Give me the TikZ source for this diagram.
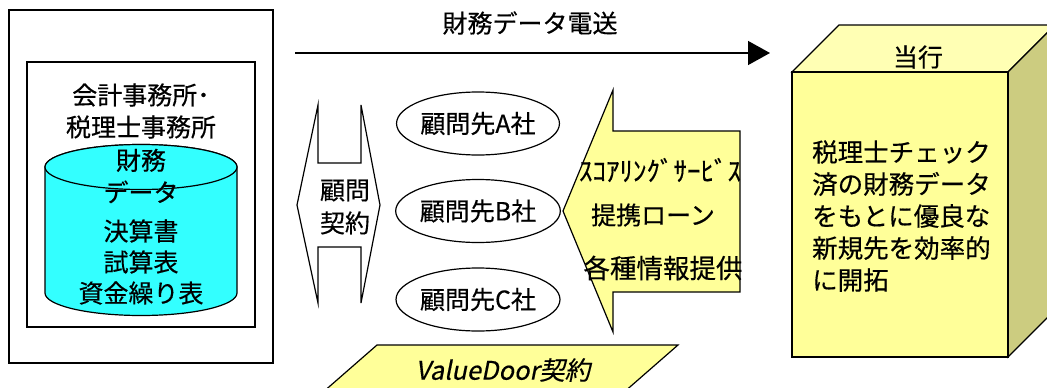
\documentclass[tikz,border=0pt]{standalone}
\usepackage{fontspec}
\setmainfont{Noto Sans CJK JP}[FakeBold=0.4]
\newfontfamily\jpit{Noto Sans CJK JP}[FakeSlant=0.2,FakeBold=0.4]
\usetikzlibrary{arrows.meta,shapes.geometric}
\definecolor{lyellow}{RGB}{255,255,153}
\definecolor{tyellow}{RGB}{255,255,180}
\definecolor{syellow}{RGB}{204,204,128}
\definecolor{dbcyan}{RGB}{51,255,255}
\tikzset{
  box/.style={draw=black,line width=1.4pt},
  txt/.style={font=\fontsize{25}{32}\selectfont,inner sep=0pt,align=center},
  shapeline/.style={draw=black,line width=1.2pt,line join=miter},
  client/.style={ellipse,draw=black,line width=1.2pt,minimum width=140pt,minimum height=63pt,inner sep=0pt,font=\fontsize{25}{30}\selectfont},
}
\begin{document}
\begin{tikzpicture}[x=1pt,y=-1pt]
\useasboundingbox (0,0) rectangle (1047,388);
\clip (0,0) rectangle (1047,388);
\fill[white] (0,0) rectangle (1047,388);
% left office
\node[box,minimum width=264pt,minimum height=353pt,inner sep=0pt] (outer) at (141,186.5) {};
\node[box,minimum width=228pt,minimum height=265pt,inner sep=0pt] (inner) at (141,194.5) {};
\node[txt] (office) at (141,111) {会計事務所･\\税理士事務所};
% cylinder
\path[shapeline,fill=dbcyan] (45,167) -- (45,293) arc[start angle=180,end angle=0,x radius=96,y radius=22.5] -- (237,167) arc[start angle=0,end angle=-180,x radius=96,y radius=22.5] -- cycle;
\path[shapeline,fill=dbcyan] (141,167) ellipse[x radius=96,y radius=22.5];
\node[txt] (dbtitle) at (141,176) {財務\\データ};
\node[txt,font=\fontsize{25}{31}\selectfont] (dbitems) at (141,262) {決算書\\試算表\\資金繰り表};
% top arrow
\coordinate (sendA) at (295,53);
\coordinate (sendB) at (770,53);
\draw[line width=1.4pt,-{Triangle[length=22pt,width=24pt]}] (sendA) -- (sendB);
\node[txt] (sendlbl) at (530,23) {財務データ電送};
% double arrow
\path[shapeline,fill=white] (318,105) -- (318,163) -- (361,163) -- (361,105) -- (380,205) -- (361,303) -- (361,247) -- (318,247) -- (318,303) -- (297,205) -- cycle;
\node[txt,font=\fontsize{25}{33}\selectfont] (contract) at (345,207) {顧問\\契約};
% clients
\node[client] (ca) at (478,123.5) {顧問先A社};
\node[client] (cb) at (478,211) {顧問先B社};
\node[client] (cc) at (478,299.5) {顧問先C社};
% big yellow arrow
\path[shapeline,fill=lyellow] (563,211) -- (613,90) -- (613,131) -- (740,131) -- (740,292) -- (613,292) -- (613,332) -- cycle;
\node[txt,font=\fontsize{27}{30}\selectfont] (scoring) at (660,170) {ｽｺｱﾘﾝｸﾞｻｰﾋﾞｽ};
\node[txt] (loan) at (653,215) {提携ローン};
\node[txt,font=\fontsize{26.5}{30}\selectfont] (info) at (663,268) {各種情報提供};
% ValueDoor parallelogram
\path[shapeline,fill=lyellow] (377,345) -- (678,345) -- (615,400) -- (314,400) -- cycle;
\node[txt,font=\fontsize{25.5}{30}\selectfont\jpit] (vd) at (503,370) {ValueDoor契約};
% cube
\path[shapeline,fill=tyellow] (792,72) -- (839,25) -- (1055,25) -- (1008,72) -- cycle;
\path[shapeline,fill=syellow] (1008,72) -- (1055,25) -- (1055,310) -- (1008,357) -- cycle;
\node[box,fill=lyellow,minimum width=216pt,minimum height=285pt,inner sep=0pt] (bank) at (900,214.5) {};
\node[txt] (banklbl) at (918,57) {当行};
\node[txt,align=left,anchor=west,font=\fontsize{25.5}{32}\selectfont] (banktxt) at (812,216) {税理士チェック\\済の財務データ\\をもとに優良な\\新規先を効率的\\に開拓};
\end{tikzpicture}
\end{document}
